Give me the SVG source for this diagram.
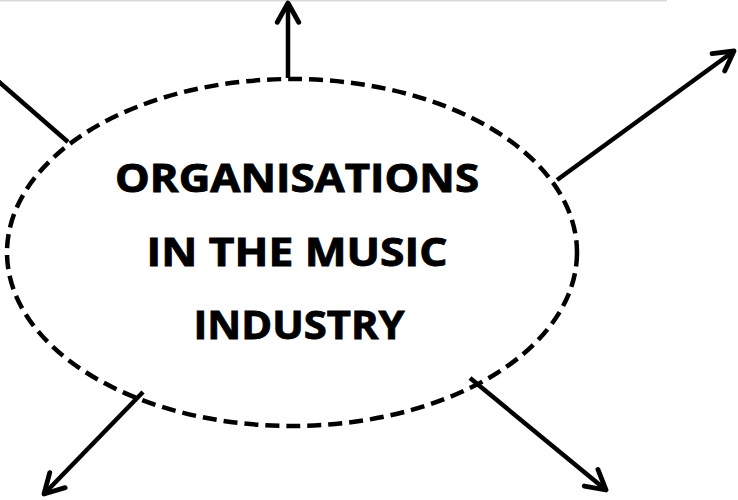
<svg xmlns="http://www.w3.org/2000/svg" width="738" height="500" viewBox="0 0 738 500">
  <defs>
    <marker id="arrow" markerUnits="userSpaceOnUse" markerWidth="30" markerHeight="30" viewBox="-22 -14 26 28" refX="0" refY="0" orient="auto" overflow="visible">
      <path d="M-18,-10 L0,0 L-18,10" fill="none" stroke="#000" stroke-width="4.5" stroke-linecap="round" stroke-linejoin="round"/>
    </marker>
  </defs>
  <style>
    .conn { stroke: #000; stroke-width: 4.5; fill: none; }
    .label { font-family: "Open Sans", "Noto Sans", "Liberation Sans", sans-serif; font-weight: bold; font-size: 39px; fill: #000; stroke: #000; stroke-width: 0.9; text-anchor: middle; }
  </style>
  <rect width="738" height="500" fill="#fff"/>
  <line x1="0" y1="0.7" x2="667" y2="0.7" stroke="#d9d9d9" stroke-width="1.5"/>
  <g id="connectors">
    <line class="conn" x1="288" y1="78" x2="288" y2="3" marker-end="url(#arrow)"/>
    <line class="conn" x1="68" y1="142" x2="-10" y2="74"/>
    <line class="conn" x1="557" y1="180" x2="734" y2="51" marker-end="url(#arrow)"/>
    <line class="conn" x1="143" y1="392" x2="44" y2="494" marker-end="url(#arrow)"/>
    <line class="conn" x1="470" y1="378" x2="606" y2="490" marker-end="url(#arrow)"/>
  </g>
  <g id="node-center">
    <ellipse cx="292" cy="252.5" rx="285" ry="173.5" fill="none" stroke="#000" stroke-width="4.5" stroke-dasharray="14 7"/>
    <text class="label" x="297" y="191.5" textLength="364" lengthAdjust="spacingAndGlyphs">ORGANISATIONS</text>
    <text class="label" x="297" y="265.5" textLength="301" lengthAdjust="spacingAndGlyphs">IN THE MUSIC</text>
    <text class="label" x="299" y="338.5" textLength="211" lengthAdjust="spacingAndGlyphs">INDUSTRY</text>
  </g>
</svg>
